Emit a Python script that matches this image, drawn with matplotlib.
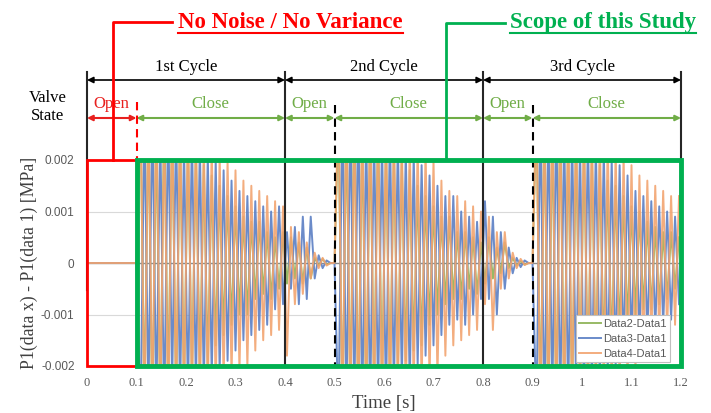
import numpy as np
import matplotlib
matplotlib.use("Agg")
import matplotlib.pyplot as plt
from matplotlib.lines import Line2D
from matplotlib.patches import Rectangle

# ---------------- data (values in 1e-3 MPa) ----------------
cycle_starts = [0.1, 0.5, 0.9]
dt = 0.008

green_c1 = [0, 3.0, -2.8, 2.9, -3.1, 2.7, -2.9, 3.0, -2.6, 2.8, -2.7, 2.6, -2.5,
            2.4, -2.3, 2.2, -2.1, 1.9, -2.0, 1.7, -1.6, 1.5, -1.4, 1.3, -1.2,
            1.1, -1.0, 0.9, -1.0, 0.8, -0.7, 0.8, -0.6, 0.6, -0.7, 0.5, -0.5, 0.6,
            -0.4, 0.5, -0.3, 0.4, -0.4, 0.3, -0.3, 0.1,
            -0.05, 0.08, -0.03, 0.0]
blue_c1 = [0, -3.1, 2.9, -2.7, 3.0, -2.8, 2.6, -3.0, 2.9, -2.4, 2.7, -2.6, 2.3,
           -2.6, 2.5, -2.4, 2.3, -2.4, 2.1, -2.2, 2.0, -2.1, 1.8, -1.9, 1.6,
           -1.7, 1.4, -1.5, 1.3, -1.4, 1.2, -1.3, 1.1, -1.2, 1.0, -0.9, 1.1, -0.8,
           0.6, -0.5, 0.7, -0.8, 0.9, -0.7, 0.9, -0.3,
           0.15, -0.1, 0.05, 0.0]
orange_c1 = [0, 3.3, -3.2, 3.1, -2.9, 3.2, -3.0, 2.8, -3.1, 3.0, -2.7, 2.9, -2.8,
             2.8, -2.7, 2.6, -2.8, 2.4, -2.6, 2.3, -2.5, 2.1, -2.3, 2.0, -2.2,
             1.8, -2.1, 1.6, -2.0, 1.5, -1.7, 1.4, -1.5, 1.3, -1.4, 1.2, -1.3, 1.1,
             -1.8, 0.7, -0.8, 0.6, -0.6, 0.4, -0.3, 0.2,
             -0.1, 0.1, -0.05, 0.0]

green_c2 = [0, 2.9, -3.0, 2.8, -2.7, 3.1, -2.9, 2.6, -2.8, 2.7, -2.5, 2.8, -2.4,
            2.3, -2.4, 2.2, -2.1, 2.0, -1.9, 1.8, -1.7, 1.5, -1.6, 1.3, -1.2,
            1.1, -1.0, 0.9, -0.8, 0.9, -0.7, 0.6, -0.7, 0.6, -0.5, 0.5, -0.6, 0.4,
            -0.4, 0.5, -0.3, 0.3, -0.2, 0.4, -0.1, 0.1,
            -0.05, 0.04, -0.03, 0.0]
blue_c2 = [0, -3.0, 3.1, -2.8, 2.9, -2.7, 3.0, -2.9, 2.6, -2.8, 2.5, -2.6, 2.4,
           -2.7, 2.6, -2.5, 2.4, -2.3, 2.2, -2.4, 2.1, -2.0, 1.9, -1.8, 1.7,
           -1.6, 1.5, -1.4, 1.3, -1.2, 1.3, -1.1, 1.0, -1.2, 0.9, -1.0, 0.8, -0.7,
           1.2, -0.7, 0.9, -1.0, 0.6, -0.5, 0.3, -0.2,
           0.1, -0.08, 0.05, 0.0]
orange_c2 = [0, 3.2, -3.1, 3.3, -3.0, 2.9, -3.2, 3.0, -2.8, 3.1, -2.9, 2.7, -3.0,
             2.8, -2.9, 2.7, -2.6, 2.5, -2.7, 2.4, -2.5, 2.3, -2.4, 2.2, -2.3,
             2.0, -2.2, 1.6, -1.8, 1.4, -1.6, 1.3, -1.5, 1.2, -1.4, 1.1, -1.3, 1.0,
             -0.8, 0.9, -1.3, 0.6, -0.5, 0.6, -0.3, 0.2,
             -0.1, 0.08, -0.04, 0.0]

green_c3 = [0, 3.0, -2.9, 2.8, -3.0, 2.7, -2.8, 2.9, -2.6, 2.5, -2.7, 2.4, -2.3,
            2.3, -2.2, 2.1, -2.0, 1.9, -1.8, 1.6, -1.7, 1.5, -1.4, 1.3, -1.2,
            1.1, -1.0, 1.0, -0.9, 0.8, -0.9, 0.7, -0.8, 0.6, -0.7, 0.6, -0.5, 0.5]
blue_c3 = [0, -2.9, 3.0, -3.1, 2.8, -2.7, 2.9, -2.8, 2.6, -2.7, 2.5, -2.4, 2.3,
           -2.6, 2.5, -2.4, 2.3, -2.3, 2.2, -2.1, 2.0, -2.0, 1.9, -1.8, 1.7,
           -1.6, 1.4, -1.5, 1.3, -1.4, 1.2, -1.3, 1.1, -1.2, 1.0, -1.1, 0.9, -0.8]
orange_c3 = [0, 3.1, -3.3, 3.0, -2.9, 3.2, -3.0, 2.8, -3.1, 2.9, -2.8, 3.0, -2.7,
             2.9, -2.8, 2.7, -2.6, 2.6, -2.5, 2.4, -2.5, 2.2, -2.4, 2.1, -2.3,
             1.9, -2.1, 1.7, -1.8, 1.6, -1.5, 1.5, -1.4, 1.4, -1.3, 1.3, -1.2, 1.3]

series_names = ["Data2-Data1", "Data3-Data1", "Data4-Data1"]
series_colors = ["#8DB255", "#5B7FC4", "#F2A470"]
series_cycles = [[green_c1, green_c2, green_c3],
                 [blue_c1, blue_c2, blue_c3],
                 [orange_c1, orange_c2, orange_c3]]

x_ticks = [0, 0.1, 0.2, 0.3, 0.4, 0.5, 0.6, 0.7, 0.8, 0.9, 1.0, 1.1, 1.2]
x_tick_labels = ["0", "0.1", "0.2", "0.3", "0.4", "0.5", "0.6", "0.7", "0.8", "0.9", "1", "1.1", "1.2"]
y_ticks = [-0.002, -0.001, 0, 0.001, 0.002]
y_tick_labels = ["-0.002", "-0.001", "0", "0.001", "0.002"]

cycle_bounds = [0.0, 0.4, 0.8, 1.2]
cycle_labels = ["1st Cycle", "2nd Cycle", "3rd Cycle"]
valve_segments = [(0.0, 0.1, "Open"), (0.1, 0.4, "Close"), (0.4, 0.5, "Open"),
                  (0.5, 0.8, "Close"), (0.8, 0.9, "Open"), (0.9, 1.2, "Close")]

# ---------------- figure ----------------
fig = plt.figure(figsize=(7.11, 4.13), dpi=100)
ax = fig.add_axes([87/711, 47/413, 594/711, 206/413])

SERIF = "Liberation Serif"
SANS = "Liberation Sans"

def ay(px):
    return (366 - px) / 206.0

def dx(px):
    return (px - 87) / 495.0

trans = ax.get_xaxis_transform()

# grid and zero axis line
for yv in [0.001, -0.001]:
    ax.axhline(yv, color="#D9D9D9", lw=0.8, zorder=0.5)
ax.axhline(0, color="#8C8C8C", lw=1.0, zorder=0.6)

for k, cycles in enumerate(series_cycles):
    t_all = [0.0]
    v_all = [0.0]
    for start, vals in zip(cycle_starts, cycles):
        t_all.extend(list(start + dt * np.arange(len(vals))))
        v_all.extend([v * 1e-3 for v in vals])
    ax.plot(t_all, v_all, color=series_colors[k], lw=1.4, alpha=0.9,
            label=series_names[k], zorder=2 + k * 0.1)

ax.set_xlim(0, 1.2)
ax.set_ylim(-0.002, 0.002)
ax.set_xticks(x_ticks)
ax.set_xticklabels(x_tick_labels, fontfamily=SERIF, fontsize=9, color="#595959")
ax.set_yticks(y_ticks)
ax.set_yticklabels(y_tick_labels, fontfamily=SANS, fontsize=8.5, color="#595959")
ax.tick_params(axis="both", length=0)
ax.tick_params(axis="y", pad=9)
ax.tick_params(axis="x", pad=8)
for s in ax.spines.values():
    s.set_visible(False)

ax.set_xlabel("Time [s]", fontfamily=SERIF, fontsize=13.5, color="#404040", labelpad=4)
ax.set_ylabel("P1(data x) - P1(data 1) [MPa]", fontfamily=SERIF, fontsize=12.8,
              color="#404040", labelpad=2)

# legend
leg = ax.legend(loc="lower right", bbox_to_anchor=(0.982, 0.02), borderaxespad=0,
                prop={"family": SANS, "size": 8}, handlelength=2.0, handletextpad=0.2,
                labelspacing=0.45, borderpad=0.3, fancybox=False, framealpha=1,
                edgecolor="#BFBFBF")
leg.get_frame().set_linewidth(0.8)
for txt in leg.get_texts():
    txt.set_color("#595959")
leg.set_zorder(6)

# boxes
ax.add_patch(Rectangle((0.0, -0.002), 0.1, 0.004, fill=False, edgecolor="#FF0000",
                       lw=2, clip_on=False, zorder=5))
ax.add_patch(Rectangle((0.1, -0.002), 1.1, 0.004, fill=False, edgecolor="#00B050",
                       lw=3.5, clip_on=False, zorder=5))

# vertical cycle lines
ax.plot([0, 0], [ay(72), ay(290)], transform=trans, color="#262626", lw=1.5,
        clip_on=False, zorder=4)
ax.plot([1.2, 1.2], [ay(72), ay(290)], transform=trans, color="#262626", lw=1.5,
        clip_on=False, zorder=4)
for xv in [0.4, 0.8]:
    ax.plot([xv, xv], [ay(72), 0], transform=trans, color="#262626", lw=1.5,
            clip_on=False, zorder=4)
for xv in [0.5, 0.9]:
    ax.plot([xv, xv], [ay(105), 0], transform=trans, color="#000000", lw=1.5,
            ls=(0, (4, 2.5)), clip_on=False, zorder=4)
ax.plot([0.1, 0.1], [ay(102), 1.0], transform=trans, color="#FF0000", lw=1.5,
        ls=(0, (4, 2.5)), clip_on=False, zorder=4)

# cycle arrows
for (a, b), lab in zip(zip(cycle_bounds[:-1], cycle_bounds[1:]), cycle_labels):
    ax.annotate("", xy=(b, ay(80)), xytext=(a, ay(80)), xycoords=trans, textcoords=trans,
                arrowprops=dict(arrowstyle="<|-|>", color="black", lw=1.2,
                                mutation_scale=9, shrinkA=0, shrinkB=0),
                annotation_clip=False)
    ax.text((a + b) / 2, ay(67), lab, transform=trans, ha="center", va="center",
            fontfamily=SERIF, fontsize=12, color="black")

# valve state arrows
for a, b, lab in valve_segments:
    col = "#E8201E" if a == 0.0 else "#70AD47"
    ax.annotate("", xy=(b, ay(118)), xytext=(a, ay(118)), xycoords=trans, textcoords=trans,
                arrowprops=dict(arrowstyle="<|-|>", color=col, lw=1.5,
                                mutation_scale=8, shrinkA=0, shrinkB=0),
                annotation_clip=False)
    ax.text((a + b) / 2, ay(104), lab, transform=trans, ha="center", va="center",
            fontfamily=SERIF, fontsize=12, color=col)

ax.text(dx(48), ay(107), "Valve\nState", transform=trans, ha="center", va="center",
        fontfamily=SERIF, fontsize=12, color="black", linespacing=1.25)

# leaders and titles
ax.plot([dx(113), dx(113), dx(172)], [1.0, ay(22), ay(22)], transform=trans,
        color="#FF0000", lw=2, clip_on=False, zorder=4)
ax.plot([dx(446), dx(446), dx(505)], [1.0, ay(23), ay(23)], transform=trans,
        color="#00B050", lw=2, clip_on=False, zorder=4)

t_red = ax.text(dx(178), ay(28), "No Noise / No Variance", transform=trans,
                ha="left", va="baseline", fontfamily=SERIF, fontweight="bold",
                fontsize=16.5, color="#FF0000")
t_green = ax.text(dx(510), ay(28), "Scope of this Study", transform=trans,
                  ha="left", va="baseline", fontfamily=SERIF, fontweight="bold",
                  fontsize=16.5, color="#00B050")

fig.canvas.draw()
renderer = fig.canvas.get_renderer()
inv = fig.transFigure.inverted()
for t, col in [(t_red, "#FF0000"), (t_green, "#00B050")]:
    bb = t.get_window_extent(renderer)
    x0, _ = inv.transform((bb.x0, 0))
    x1, _ = inv.transform((bb.x1, 0))
    yline = 1 - 32.5 / 413
    fig.add_artist(Line2D([x0, x1], [yline, yline], transform=fig.transFigure,
                          color=col, lw=1.5))

fig.savefig("out.png", dpi=100)
